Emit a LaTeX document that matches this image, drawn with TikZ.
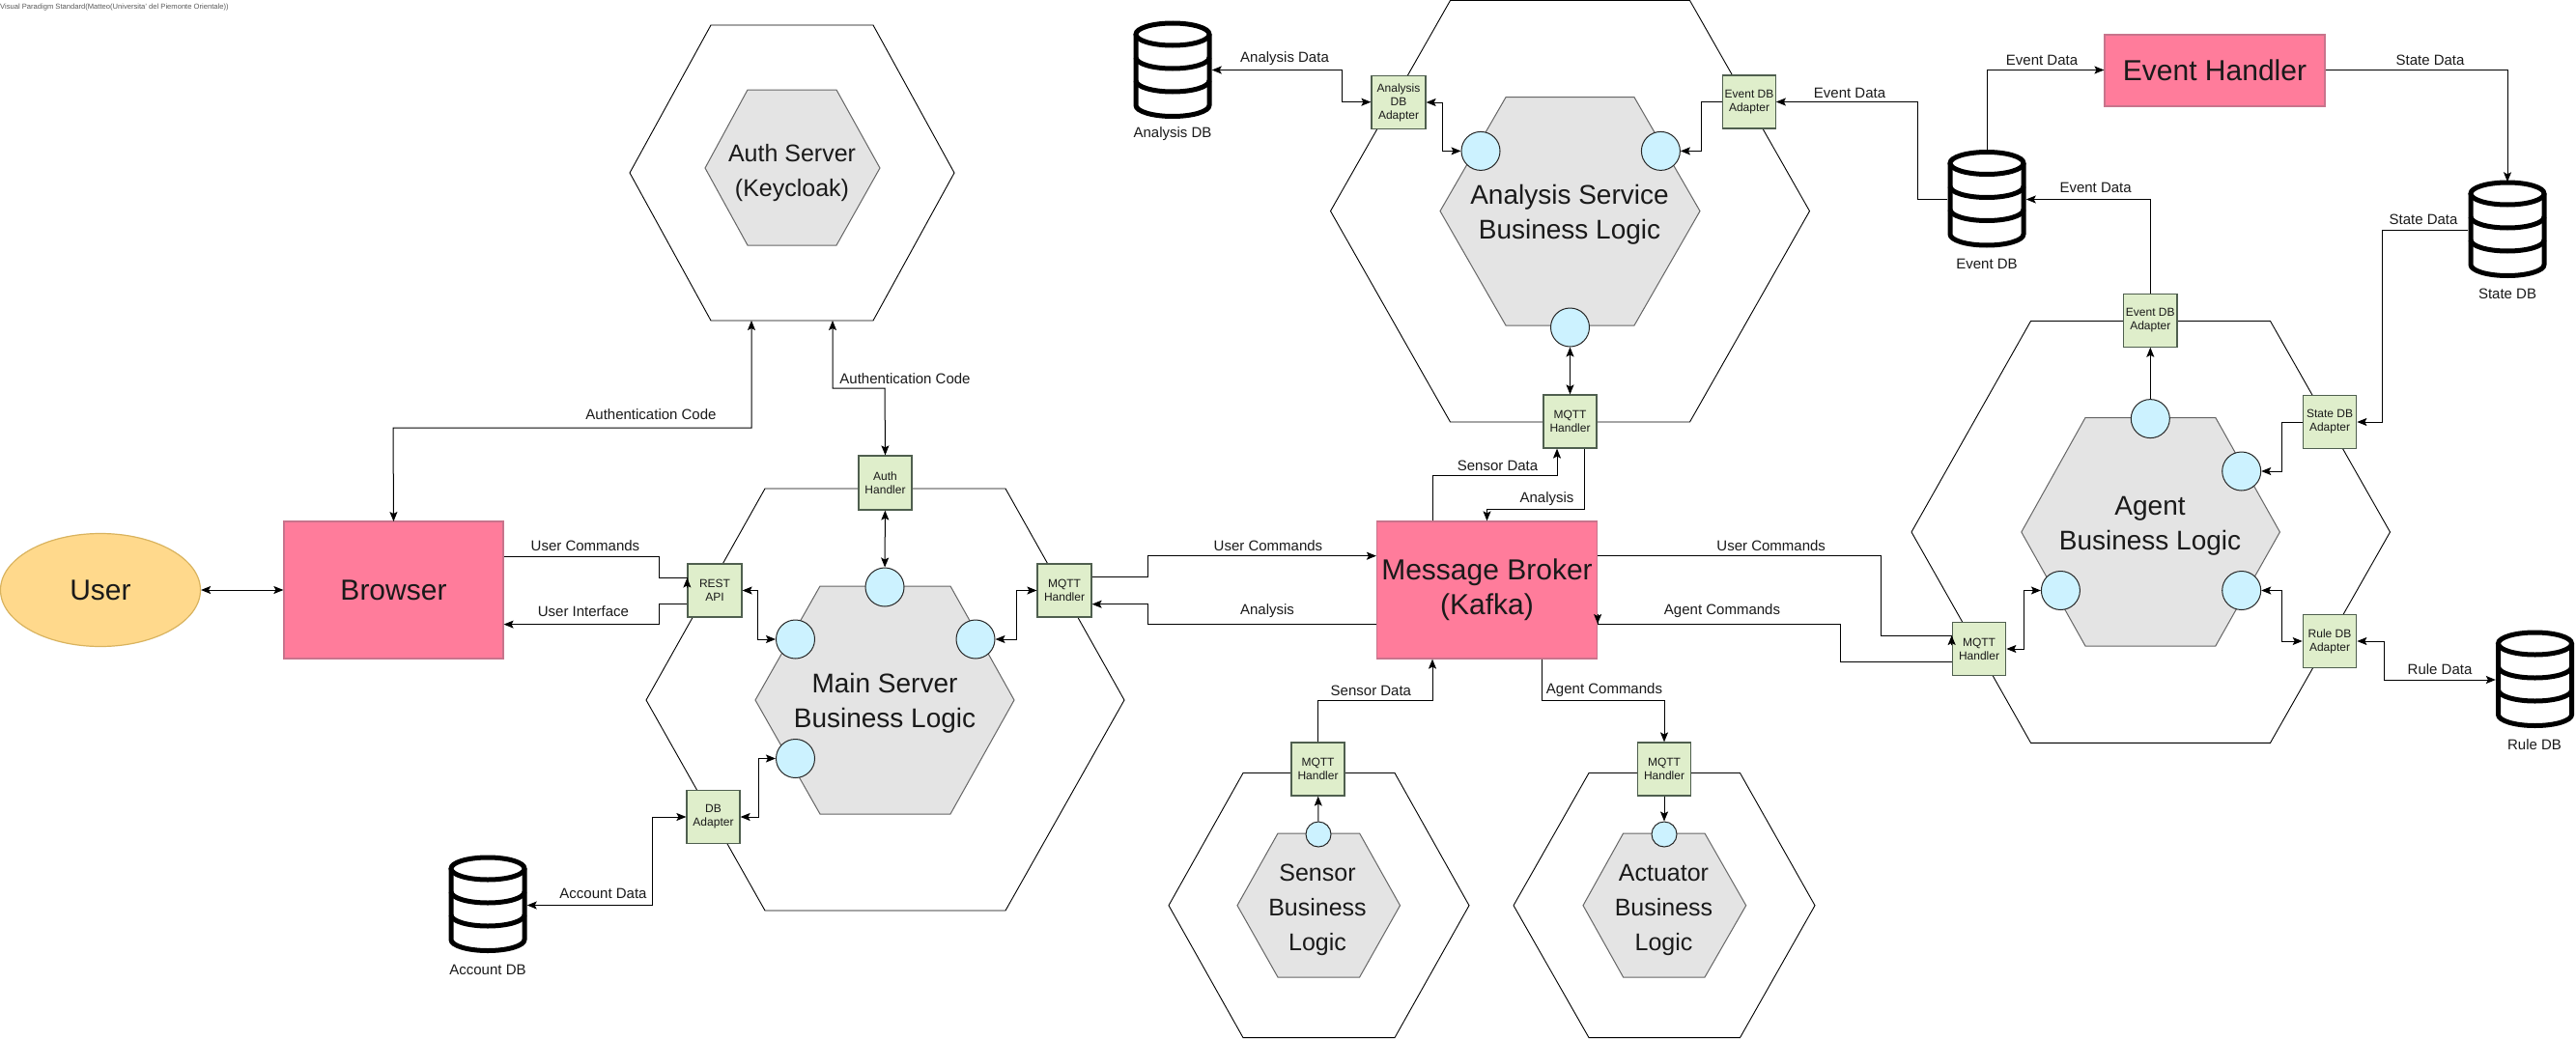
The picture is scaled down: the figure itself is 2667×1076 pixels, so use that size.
\documentclass[tikz,border=0pt]{standalone}
\usepackage{fontspec}
\setmainfont{Liberation Sans}
\usetikzlibrary{arrows.meta,shapes.geometric}

\definecolor{pinkfill}{HTML}{FF7C9B}
\definecolor{pinkline}{HTML}{C8748C}
\definecolor{userfill}{HTML}{FFD98C}
\definecolor{userline}{HTML}{D9B35E}
\definecolor{boxfill}{HTML}{DFEECB}
\definecolor{boxline}{HTML}{4F5F4F}
\definecolor{logicfill}{HTML}{E4E4E4}
\definecolor{portfill}{HTML}{CCF2FF}
\definecolor{inktext}{HTML}{1A1A1A}

\newcommand{\dbicon}[3]{
	\node[dbspace] (#1) at (#2,#3) {};
	\begin{scope}[shift={(#2,#3)}]
		\draw[dbline] (0,-37.5) ellipse [x radius=38pt,y radius=11.5pt];
		\draw[dbline] (-38,-37.5) -- (-38,36) arc [start angle=180,end angle=360,x radius=38pt,y radius=11.5pt] -- (38,-37.5);
		\draw[dbline] (-38,-13.5) arc [start angle=180,end angle=360,x radius=38pt,y radius=11.5pt];
		\draw[dbline] (-38,10.5) arc [start angle=180,end angle=360,x radius=38pt,y radius=11.5pt];
	\end{scope}
}

\begin{document}
\begin{tikzpicture}
			[x=1pt,y=-1pt,
			link/.style={line width=1pt,>={Stealth[length=10pt,width=8pt,inset=2pt]}},
			outerhex/.style={draw=black,line width=0.9pt,fill=white},
			innerhex/.style={draw=black!60,line width=1pt,fill=logicfill},
			pinkbox/.style={rectangle,draw=pinkline,line width=1.2pt,fill=pinkfill,inner sep=0pt,align=center,text=inktext,font=\fontsize{30}{36}\selectfont},
			adapter/.style={rectangle,draw=boxline,line width=1.2pt,fill=boxfill,inner sep=0pt,align=center,text=inktext,font=\fontsize{12}{14}\selectfont},
			port/.style={circle,draw=black!85,line width=1pt,fill=portfill,inner sep=0pt,minimum size=40pt},
			smallport/.style={port,minimum size=26pt},
			logictext/.style={align=center,inner sep=0pt,text=inktext,font=\fontsize{28}{36}\selectfont},
			smalllogic/.style={align=center,inner sep=0pt,text=inktext,font=\fontsize{25}{36}\selectfont},
			datalabel/.style={inner sep=0pt,text=inktext,font=\fontsize{15}{18}\selectfont},
			dbspace/.style={rectangle,inner sep=0pt,minimum width=81pt,minimum height=99pt},
			dbline/.style={draw=black,line width=5pt}]
			\useasboundingbox (0,0) rectangle (2667,1076);

			\node[inner sep=0pt,anchor=west,text=black!65,font=\fontsize{7.6}{9}\selectfont] (watermark) at (0,7.5) {Visual Paradigm Standard(Matteo(Universita' del Piemonte Orientale))};

			\foreach \xa/\xb/\xc/\xd/\yt/\ym/\yb in {652/736/904/988/26/179/332,669/792/1041/1164/506/725/943,1377.5/1501.5/1749.5/1873.5/0.5/218.6/437,1210/1287/1444/1521/800.5/937.7/1074.6,1567/1645/1801.5/1879/800.5/937.7/1074.6,1979/2102.5/2350.5/2474.5/332.5/551/769.3}
			\draw[outerhex] (\xa,\ym) -- (\xb,\yt) -- (\xc,\yt) -- (\xd,\ym) -- (\xc,\yb) -- (\xb,\yb) -- cycle;

			\foreach \xa/\xb/\xc/\xd/\yt/\ym/\yb in {730/774/866/911/93/174/254,782/849/984/1050/607/725/843,1491/1559/1692/1760/100.7/218.6/337,1281/1323/1407.6/1449.5/863/937.7/1012,1639/1680.6/1765/1807.7/863/937.7/1012,2092.8/2159/2293.8/2360.4/432.5/551/669}
			\draw[innerhex] (\xa,\ym) -- (\xb,\yt) -- (\xc,\yt) -- (\xd,\ym) -- (\xc,\yb) -- (\xb,\yb) -- cycle;

			\node[smalllogic] (authlogic) at (820,179) {Auth Server\\(Keycloak)};
			\node[logictext] (mainlogic) at (916,728) {Main Server\\Business Logic};
			\node[logictext] (analysislogic) at (1625,222.5) {Analysis Service\\Business Logic};
			\node[logictext] (agentlogic) at (2226,545) {Agent\\Business Logic};
			\node[smalllogic] (sensorlogic) at (1364,942) {Sensor\\Business\\Logic};
			\node[smalllogic] (actuatorlogic) at (1722.5,942) {Actuator\\Business\\Logic};

			\node[ellipse,draw=userline,line width=1.2pt,fill=userfill,minimum width=207pt,minimum height=117pt,inner sep=0pt,text=inktext,font=\fontsize{30}{36}\selectfont] (user) at (104,611) {User};
			\node[pinkbox,minimum width=227pt,minimum height=142pt] (browser) at (407.5,611) {Browser};
			\node[pinkbox,minimum width=228pt,minimum height=142pt] (broker) at (1539.5,611) {Message Broker\\(Kafka)};
			\node[pinkbox,minimum width=228pt,minimum height=74pt] (eventhandler) at (2293,73) {Event Handler};

			\node[adapter,minimum width=55pt,minimum height=56pt] (authhandler) at (916.5,500) {Auth\\Handler};
			\node[adapter,minimum width=56pt,minimum height=55pt] (restapi) at (740,611.5) {REST\\API};
			\node[adapter,minimum width=56pt,minimum height=55pt] (mainmqtt) at (1102,611.5) {MQTT\\Handler};
			\node[adapter,minimum width=55pt,minimum height=55pt] (dbadapter) at (738.5,846) {DB\\Adapter};
			\node[adapter,minimum width=56pt,minimum height=55.5pt] (analysisadapter) at (1448,106) {Analysis\\DB\\Adapter};
			\node[adapter,minimum width=54.5pt,minimum height=55pt] (eventadapter) at (1811,105.5) {Event DB\\Adapter};
			\node[adapter,minimum width=55pt,minimum height=55pt] (analysismqtt) at (1625.5,436.5) {MQTT\\Handler};
			\node[adapter,minimum width=55pt,minimum height=55pt] (sensormqtt) at (1364.5,796.5) {MQTT\\Handler};
			\node[adapter,minimum width=55pt,minimum height=55pt] (actuatormqtt) at (1723,796.5) {MQTT\\Handler};
			\node[adapter,minimum width=55.5pt,minimum height=55.5pt] (agentmqtt) at (2049,672) {MQTT\\Handler};
			\node[adapter,minimum width=55.5pt,minimum height=55pt] (agenteventadapter) at (2226.3,331.7) {Event DB\\Adapter};
			\node[adapter,minimum width=55.5pt,minimum height=55.5pt] (stateadapter) at (2412,437) {State DB\\Adapter};
			\node[adapter,minimum width=55.5pt,minimum height=55.5pt] (ruleadapter) at (2412,664) {Rule DB\\Adapter};

			\node[port] (mainporttop) at (916,608) {};
			\node[port] (mainportleft) at (823.5,662) {};
			\node[port] (mainportright) at (1010,662) {};
			\node[port] (mainportdb) at (823.5,785.5) {};
			\node[port] (analysisportleft) at (1533,156.4) {};
			\node[port] (analysisportright) at (1719.4,156.4) {};
			\node[port] (analysisportbottom) at (1625.5,339) {};
			\node[smallport] (sensorport) at (1365,864) {};
			\node[smallport] (actuatorport) at (1723,864) {};
			\node[port] (agentporttop) at (2226.3,433.6) {};
			\node[port] (agentportstate) at (2320.7,488) {};
			\node[port] (agentportleft) at (2133.4,611.5) {};
			\node[port] (agentportrule) at (2320.7,611.5) {};

			\dbicon{accountdb}{505}{937}
			\dbicon{analysisdb}{1214}{73}
			\dbicon{eventdb}{2057}{206.5}
			\dbicon{statedb}{2596}{238}
			\dbicon{ruledb}{2624.5}{704}

			\node[datalabel] (accountdblabel) at (505,1004) {Account DB};
			\node[datalabel] (analysisdblabel) at (1214,139) {Analysis DB};
			\node[datalabel] (eventdblabel) at (2057,273) {Event DB};
			\node[datalabel] (statedblabel) at (2596,304.6) {State DB};
			\node[datalabel] (ruledblabel) at (2624,771) {Rule DB};

			\foreach \from/\to in {user/browser,authhandler/mainporttop,analysisportbottom/analysismqtt}
			\draw[link,<->] (\from) to (\to);

			\foreach \from/\to in {sensorport/sensormqtt,actuatormqtt/actuatorport,agentporttop/agenteventadapter}
			\draw[link,->] (\from) to (\to);

			\draw[link,<->] (browser.north |- 0,540) -- (407,443) -| (778,332);
			\draw[link,<->] (862,332) |- (916,402) -- (authhandler.north);
			\draw[link,->] (browser.east |- 0,576) -| (682,598.5) -- (restapi.west |- 0,598.5) -- ++(0,10) -- (restapi.west |- 0,598.5);
			\draw[link,->] (restapi.west |- 0,625.6) -| (682,646.6) -- (browser.east |- 0,646.6);
			\draw[link,<->] (restapi.east) -| (784.4,662) -- (mainportleft.west);
			\draw[link,<->] (mainmqtt.west) -| (1052,662) -- (mainportright.east);
			\draw[link,<->] (dbadapter.east) -| (785,785.5) -- (mainportdb.west);
			\draw[link,<->] (dbadapter.west) -| (675,937.5) -- (accountdb.east |- 0,937.5);

			\draw[link,->] (mainmqtt.east |- 0,597.4) -| (1188,575.7) -- (broker.west |- 0,575.7);
			\draw[link,->] (broker.west |- 0,646) -| (1188,625.7) -- (mainmqtt.east |- 0,625.7);
			\draw[link,->] (broker.east |- 0,575.7) -| (1947.5,658) -- (agentmqtt.west |- 0,658) -- ++(0,10) -- (agentmqtt.west |- 0,658);
			\draw[link,->] (agentmqtt.west |- 0,685.6) -| (1905.4,646) -- (broker.east |- 0,646) -- ++(0,-10) -- (broker.east |- 0,646);
			\draw[link,->] (broker.north -| 1483,0) |- (1612,492.5) -- (analysismqtt.south -| 1612,0);
			\draw[link,->] (analysismqtt.south -| 1640,0) |- (1539.5,527) -- (broker.north);
			\draw[link,->] (sensormqtt.north) |- (1483,725.3) -- (broker.south -| 1483,0);
			\draw[link,->] (broker.south -| 1596.4,0) |- (1723,725.3) -- (actuatormqtt.north);

			\draw[link,<->] (analysisdb.east |- 0,72.5) -| (1389,105.7) -- (analysisadapter.west |- 0,105.7);
			\draw[link,<->] (analysisadapter.east) -| (1493,156.4) -- (analysisportleft.west);
			\draw[link,->] (eventadapter.west) -| (1761.7,156.4) -- (analysisportright.east);
			\draw[link,->] (eventdb.west) -| (1985.6,105.5) -- (eventadapter.east);

			\draw[link,->] (eventdb.north) |- (eventhandler.west |- 0,72.5);
			\draw[link,->] (eventhandler.east |- 0,72.5) -| (statedb.north);
			\draw[link,->] (agenteventadapter.north) |- (eventdb.east);
			\draw[link,->] (statedb.west) -| (2466,437) -- (stateadapter.east);
			\draw[link,->] (stateadapter.west) -| (2362.3,488) -- (agentportstate.east);
			\draw[link,<->] (agentmqtt.east) -| (2095.7,611.5) -- (agentportleft.west);
			\draw[link,<->] (ruleadapter.west) -| (2362.3,611.5) -- (agentportrule.east);
			\draw[link,<->] (ruleadapter.east) -| (2468.5,704) -- (ruledb.west);

			\node[datalabel] (authcodeleft) at (674,429) {Authentication Code};
			\node[datalabel] (authcoderight) at (937,392) {Authentication Code};
			\node[datalabel] (usercmdbrowser) at (606,565) {User Commands};
			\node[datalabel] (userinterface) at (604,633) {User Interface};
			\node[datalabel] (accountdata) at (624.5,925.8) {Account Data};
			\node[datalabel] (usercmdmain) at (1313,565) {User Commands};
			\node[datalabel] (analysismain) at (1312,633) {Analysis};
			\node[datalabel] (usercmdagent) at (1833.7,565) {User Commands};
			\node[datalabel] (agentcmdbroker) at (1783,633) {Agent Commands};
			\node[datalabel] (sensordatabroker) at (1419.4,715) {Sensor Data};
			\node[datalabel] (agentcmdactuator) at (1661,715) {Agent Commands};
			\node[datalabel] (sensordataanalysis) at (1550.5,482) {Sensor Data};
			\node[datalabel] (analysisbroker) at (1601.5,517) {Analysis};
			\node[datalabel] (analysisdata) at (1330,61) {Analysis Data};
			\node[datalabel] (eventdataanalysis) at (1915,96) {Event Data};
			\node[datalabel] (eventdatahandler) at (2114,62.6) {Event Data};
			\node[datalabel] (statedatahandler) at (2516,62.6) {State Data};
			\node[datalabel] (eventdataagent) at (2169.6,194.6) {Event Data};
			\node[datalabel] (statedataagent) at (2509,227.5) {State Data};
			\node[datalabel] (ruledata) at (2526,692.7) {Rule Data};

			\end{tikzpicture}
\end{document}
